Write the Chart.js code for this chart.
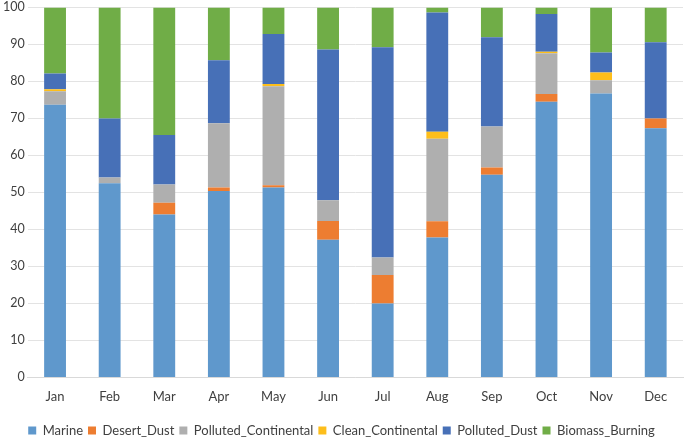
<!DOCTYPE html>
<html>
<head>
<meta charset="utf-8">
<script src="https://cdn.jsdelivr.net/npm/chart.js@4.4.1/dist/chart.umd.min.js"></script>
<style>
  html, body { margin: 0; padding: 0; background: #fff; }
  #wrap { width: 685px; height: 437px; }
</style>
</head>
<body>
<div id="wrap"><canvas id="myChart"></canvas></div>
<script>
const months = ['Jan', 'Feb', 'Mar', 'Apr', 'May', 'Jun', 'Jul', 'Aug', 'Sep', 'Oct', 'Nov', 'Dec'];

const marine = [73.7, 52.5, 44.0, 50.4, 51.3, 37.2, 20.0, 37.8, 54.8, 74.5, 76.7, 67.3];
const desertDust = [0, 0, 3.2, 0.9, 0.6, 5.1, 7.7, 4.4, 1.9, 2.1, 0, 2.7];
const pollutedContinental = [3.6, 1.5, 4.9, 17.4, 26.8, 5.6, 4.7, 22.3, 11.1, 11.0, 3.6, 0];
const cleanContinental = [0.6, 0, 0, 0, 0.6, 0, 0, 1.9, 0, 0.4, 2.1, 0];
const pollutedDust = [4.2, 16.0, 13.4, 17.0, 13.5, 40.7, 56.8, 32.2, 24.1, 10.2, 5.4, 20.6];
const biomassBurning = [17.9, 30.0, 34.5, 14.3, 7.2, 11.4, 10.8, 1.4, 8.1, 1.8, 12.2, 9.4];

const yTicks = [0, 10, 20, 30, 40, 50, 60, 70, 80, 90, 100];

const tickFont = { family: 'Lato', size: 13 };

function makeSet(label, values, color) {
  return {
    label: label,
    data: values,
    backgroundColor: color,
    borderColor: color,
    borderWidth: 0,
    barPercentage: 0.4,
    categoryPercentage: 1.0
  };
}

// nudge the legend a bit lower, Excel puts it close to the bottom edge
const legendNudge = {
  id: 'legendNudge',
  afterLayout(chart) {
    chart.legend.top += 10;
    chart.legend.bottom += 10;
  }
};

function initChart(target) {
  const data = {
    labels: months,
    datasets: [
      makeSet('Marine', marine, '#5f98cc'),
      makeSet('Desert_Dust', desertDust, '#ed7d31'),
      makeSet('Polluted_Continental', pollutedContinental, '#afafaf'),
      makeSet('Clean_Continental', cleanContinental, '#fdbe1b'),
      makeSet('Polluted_Dust', pollutedDust, '#4770b7'),
      makeSet('Biomass_Burning', biomassBurning, '#70ad47')
    ]
  };

  const config = {
    type: 'bar',
    data: data,
    plugins: [legendNudge],
    options: {
      responsive: true,
      maintainAspectRatio: false,
      animation: false,
      layout: { padding: { top: 0, right: 2, left: 0, bottom: 0 } },
      plugins: {
        tooltip: { enabled: false },
        legend: {
          position: 'bottom',
          labels: {
            boxWidth: 8,
            boxHeight: 8,
            padding: 5,
            color: '#404040',
            font: tickFont
          }
        }
      },
      scales: {
        x: {
          stacked: true,
          grid: { display: false, drawTicks: false },
          border: { display: true, color: '#d9d9d9' },
          ticks: { color: '#404040', font: tickFont, padding: 11.5 },
          afterFit: (scale) => { scale.height -= 7; }
        },
        y: {
          stacked: true,
          min: 0,
          max: 100,
          afterBuildTicks: (axis) => { axis.ticks = yTicks.map((v) => ({ value: v })); },
          grid: { color: '#e3e3e3', lineWidth: 1, drawTicks: false },
          border: { display: false },
          ticks: { color: '#404040', font: { family: 'Lato', size: 12.5, lineHeight: 0.7 }, padding: 3 }
        }
      }
    }
  };

  return new Chart(target, config);
}

document.addEventListener('DOMContentLoaded', () => initChart(document.querySelector('#myChart')));
</script>
</body>
</html>
